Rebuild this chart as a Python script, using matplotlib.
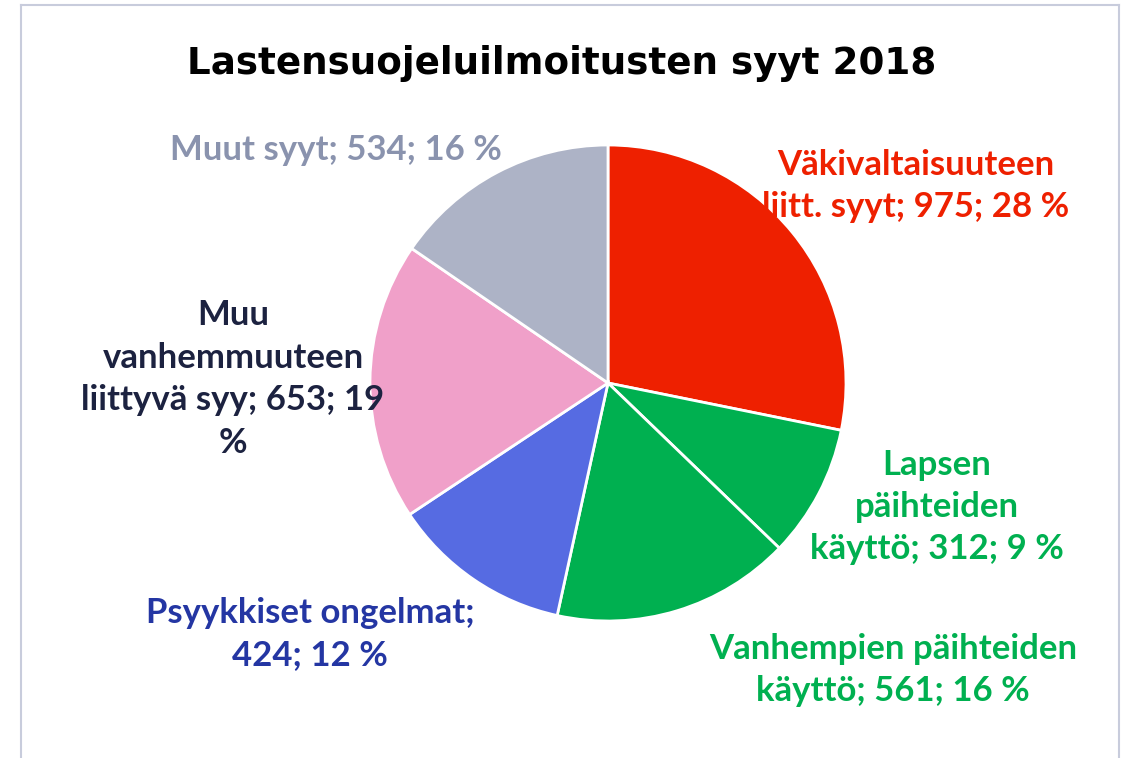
import matplotlib
matplotlib.use("Agg")
import matplotlib.pyplot as plt
from matplotlib.lines import Line2D

categories = ["Väkivaltaisuuteen liitt. syyt", "Lapsen päihteiden käyttö",
              "Vanhempien päihteiden käyttö", "Psyykkiset ongelmat",
              "Muu vanhemmuuteen liittyvä syy", "Muut syyt"]
values = [975, 312, 561, 424, 653, 534]
percents = [28, 9, 16, 12, 19, 16]
colors = ["#EE2000", "#00B050", "#00B050", "#566BE2", "#F0A0C9", "#ADB3C6"]
label_colors = ["#EE2000", "#00B050", "#00B050", "#2436A3", "#1C2240", "#8A93AE"]
label_texts = [
    "Väkivaltaisuuteen\nliitt. syyt; 975; 28 %",
    "Lapsen\npäihteiden\nkäyttö; 312; 9 %",
    "Vanhempien päihteiden\nkäyttö; 561; 16 %",
    "Psyykkiset ongelmat;\n424; 12 %",
    "Muu\nvanhemmuuteen\nliittyvä syy; 653; 19\n%",
    "Muut syyt; 534; 16 %",
]
# label centers in pixels (x, y from top)
label_pos = [(916, 186), (937, 507), (893, 670), (310, 634), (233, 379), (336, 150)]

W, H = 1125, 758
fig = plt.figure(figsize=(W / 100, H / 100), dpi=100)
fig.patch.set_facecolor("white")

def fx(px):
    return px / W

def fy(py):
    return 1 - py / H

fig.text(fx(562), fy(63), "Lastensuojeluilmoitusten syyt 2018", ha="center", va="center",
         fontsize=26.8, fontweight="bold", family="DejaVu Sans", color="black")

for t, (x, y), c in zip(label_texts, label_pos, label_colors):
    fig.text(fx(x), fy(y), t, ha="center", va="center", fontsize=25, fontweight="bold",
             family="Lato", color=c, linespacing=1.4, multialignment="center")

cx, cy, r = 608, 383, 238
ax = fig.add_axes([(cx - r) / W, (H - cy - r) / H, 2 * r / W, 2 * r / H])
ax.pie(values, colors=colors, startangle=90, counterclock=False, radius=1,
       wedgeprops=dict(edgecolor="white", linewidth=2))
ax.set_xlim(-1, 1)
ax.set_ylim(-1, 1)
ax.set_aspect("equal")
ax.axis("off")

bc = "#C8CCDC"
fig.add_artist(Line2D([fx(21), fx(21)], [fy(5), 0], color=bc, lw=1.5))
fig.add_artist(Line2D([fx(21), fx(1119)], [fy(5), fy(5)], color=bc, lw=1.5))
fig.add_artist(Line2D([fx(1119), fx(1119)], [fy(5), 0], color=bc, lw=1.5))

fig.savefig("out.png", dpi=100, facecolor="white")
